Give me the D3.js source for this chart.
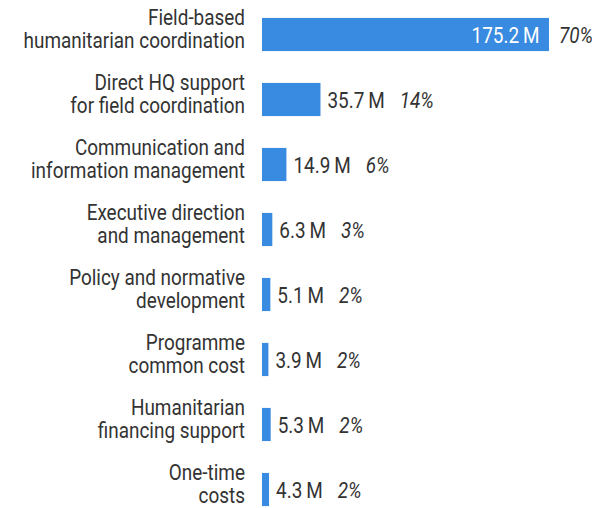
<!doctype html>
<html lang="en">
<head>
<meta charset="utf-8">
<script src="https://cdnjs.cloudflare.com/ajax/libs/d3/7.8.5/d3.min.js"></script>
<style>
  body { margin: 0; background: #fff; }
  text { font-family: Roboto, sans-serif; font-size: 21.5px; fill: #333; }
  .val-in { fill: #fff; }
  .pct { font-style: italic; }
</style>
</head>
<body>
<div id="chart"></div>
<script>
var labels = [
  ["Field-based", "humanitarian coordination"],
  ["Direct HQ support", "for field coordination"],
  ["Communication and", "information management"],
  ["Executive direction", "and management"],
  ["Policy and normative", "development"],
  ["Programme", "common cost"],
  ["Humanitarian", "financing support"],
  ["One-time", "costs"]
];
var values = [175.2, 35.7, 14.9, 6.3, 5.1, 3.9, 5.3, 4.3];
var shares = ["70%", "14%", "6%", "3%", "2%", "2%", "2%", "2%"];

var width = 592, height = 508;
var left = 262;
var squeeze = 0.88; // narrow the text like a condensed face

var svg = d3.select('#chart').append('svg')
    .attr('width', width)
    .attr('height', height);

var x = d3.scaleLinear().domain([0, 175.2]).range([left, 549]);
var y = d3.scaleBand().domain(d3.range(values.length))
    .range([2, 522]).paddingInner(0.49).paddingOuter(0.245);

var mid = y.bandwidth() / 2;

function label(sel, tx, ty, anchor, cls, str) {
    var t = sel.append('g')
        .attr('transform', 'translate(' + tx + ',' + ty + ') scale(' + squeeze + ',1)')
        .append('text')
        .attr('text-anchor', anchor)
        .text(str);
    if (cls) t.attr('class', cls);
    return t;
}

var rows = svg.selectAll('g.row')
    .data(values)
    .enter().append('g')
    .attr('class', 'row')
    .attr('transform', function(d, i) { return 'translate(0,' + y(i) + ')'; });

rows.append('rect')
    .attr('x', x(0))
    .attr('height', y.bandwidth())
    .attr('width', function(d) { return x(d) - x(0); })
    .attr('fill', '#388be0');

rows.each(function(d, i) {
    var g = d3.select(this);
    // category label, two lines
    label(g, 245, mid - 9.5, 'end', null, labels[i][0]);
    label(g, 245, mid + 13.8, 'end', null, labels[i][1]);

    // value inside the first bar, outside the others
    var inside = i === 0;
    var v = label(g, inside ? x(d) - 9.5 : x(d) + 7, mid + 8.5,
        inside ? 'end' : 'start', inside ? 'val-in' : 'val',
        d3.format('.1f')(d) + '\u2009M');
    var endX = inside ? x(d) : x(d) + 7 + v.node().getComputedTextLength() * squeeze;
    label(g, endX + (inside ? 10 : 15), mid + 8.5, 'start', 'pct', shares[i]);
});
</script>
</body>
</html>
